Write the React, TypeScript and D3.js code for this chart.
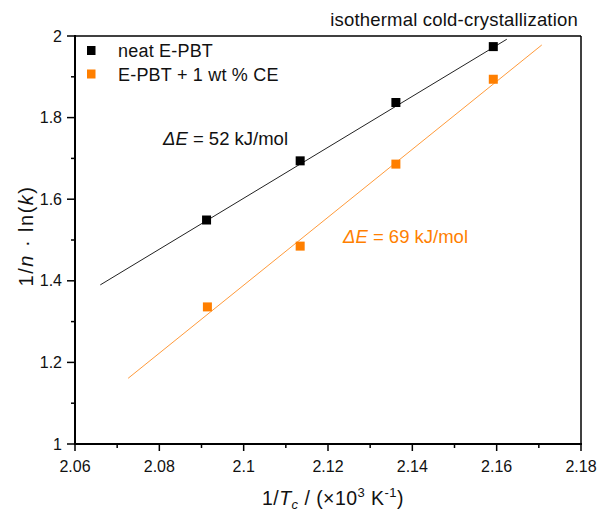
import React from "react";
import * as d3 from "d3";

const neatX = [2.0912, 2.1134, 2.1361, 2.1592];
const neatY = [1.549, 1.694, 1.837, 1.974];
const ceX = [2.0914, 2.1134, 2.1361, 2.1592];
const ceY = [1.336, 1.485, 1.686, 1.894];
const neatFitX = [2.066, 2.1624];
const neatFitY = [1.39, 1.992];
const ceFitX = [2.0726, 2.1707];
const ceFitY = [1.161, 1.978];
const xTicks = [2.06, 2.08, 2.1, 2.12, 2.14, 2.16, 2.18];
const xMinor = [2.07, 2.09, 2.11, 2.13, 2.15, 2.17];
const yTicks = [1, 1.2, 1.4, 1.6, 1.8, 2];
const yMinor = [1.1, 1.3, 1.5, 1.7, 1.9];
const seriesNames = ["neat E-PBT", "E-PBT + 1 wt % CE"];

const BLACK = "#000000";
const ORANGE = "#ff7f00";
const FONT = "'Liberation Sans', Arial, sans-serif";

export default function App() {
  const W = 598, H = 513;
  const L = 75, R = 581, T = 36, B = 444;
  const x = d3.scaleLinear().domain([2.06, 2.18]).range([L, R]);
  const y = d3.scaleLinear().domain([1, 2]).range([B, T]);
  const line = d3.line<[number, number]>().x(d => x(d[0])).y(d => y(d[1]));
  const fmt = (v: number) => d3.format("~g")(v);
  const ms = 9;
  return (
    <svg width={W} height={H} style={{ position: "absolute", left: 0, top: 0 }} fontFamily={FONT}>
      <rect width={W} height={H} fill="#fff" />
      {/* fit lines */}
      <path d={line(neatFitX.map((v, i) => [v, neatFitY[i]]) as any) || ""} stroke="#222" strokeWidth={1} fill="none" />
      <path d={line(ceFitX.map((v, i) => [v, ceFitY[i]]) as any) || ""} stroke="#ff9a3a" strokeWidth={1} fill="none" />
      {/* markers */}
      {neatX.map((v, i) => (
        <rect key={"n" + i} x={x(v) - ms / 2} y={y(neatY[i]) - ms / 2} width={ms} height={ms} fill={BLACK} />
      ))}
      {ceX.map((v, i) => (
        <rect key={"c" + i} x={x(v) - ms / 2} y={y(ceY[i]) - ms / 2} width={ms} height={ms} fill={ORANGE} />
      ))}
      {/* frame */}
      <line x1={L} x2={R} y1={T} y2={T} stroke="#000" strokeWidth={1.5} />
      <line x1={R} x2={R} y1={T} y2={B} stroke="#000" strokeWidth={1.5} />
      <line x1={L} x2={L} y1={T - 1} y2={B + 1} stroke="#000" strokeWidth={2} />
      <line x1={L - 1} x2={R + 1} y1={B} y2={B} stroke="#000" strokeWidth={2} />
      {/* x ticks */}
      {xTicks.map(v => (
        <g key={"xt" + v}>
          <line x1={x(v)} x2={x(v)} y1={B} y2={B + 7} stroke="#000" strokeWidth={1.5} />
          <text x={x(v)} y={472} fontSize={16} textAnchor="middle" fill="#111">{fmt(v)}</text>
        </g>
      ))}
      {xMinor.map(v => (
        <line key={"xm" + v} x1={x(v)} x2={x(v)} y1={B} y2={B + 4} stroke="#000" strokeWidth={1.5} />
      ))}
      {/* y ticks */}
      {yTicks.map(v => (
        <g key={"yt" + v}>
          <line x1={L - 8} x2={L} y1={y(v)} y2={y(v)} stroke="#000" strokeWidth={1.5} />
          <text x={62} y={y(v) + 5.5} fontSize={16} textAnchor="end" fill="#111">{fmt(v)}</text>
        </g>
      ))}
      {yMinor.map(v => (
        <line key={"ym" + v} x1={L - 4} x2={L} y1={y(v)} y2={y(v)} stroke="#000" strokeWidth={1.5} />
      ))}
      {/* axis labels */}
      <text x={333} y={505} fontSize={19.5} textAnchor="middle" fill="#111" letterSpacing={0.45}>
        1/<tspan fontStyle="italic">T</tspan>
        <tspan fontStyle="italic" fontSize={13} dy={4}>c</tspan>
        <tspan dy={-4}> / (×10</tspan>
        <tspan fontSize={13} dy={-8}>3</tspan>
        <tspan dy={8}> K</tspan>
        <tspan fontSize={13} dy={-8}>-1</tspan>
        <tspan dy={8}>)</tspan>
      </text>
      <text transform={`translate(33,236) rotate(-90)`} fontSize={20} textAnchor="middle" fill="#111" letterSpacing={1.5}>
        1/<tspan fontStyle="italic">n</tspan> · ln(<tspan fontStyle="italic">k</tspan>)
      </text>
      {/* title */}
      <text x={578} y={26} fontSize={18.5} textAnchor="end" fill="#111" letterSpacing={0.2}>isothermal cold-crystallization</text>
      {/* legend */}
      {seriesNames.map((s, i) => (
        <g key={s}>
          <rect x={87} y={46 + i * 23.5} width={8.5} height={9} fill={i === 0 ? BLACK : ORANGE} />
          <text x={118} y={57 + i * 23.5} fontSize={18} fill="#111" letterSpacing={0.2}>{s}</text>
        </g>
      ))}
      {/* annotations */}
      <text x={163} y={145} fontSize={18.5} fill="#111">
        <tspan fontStyle="italic">ΔE</tspan> = 52 kJ/mol
      </text>
      <text x={343} y={243} fontSize={18.5} fill={ORANGE}>
        <tspan fontStyle="italic">ΔE</tspan> = 69 kJ/mol
      </text>
    </svg>
  );
}
